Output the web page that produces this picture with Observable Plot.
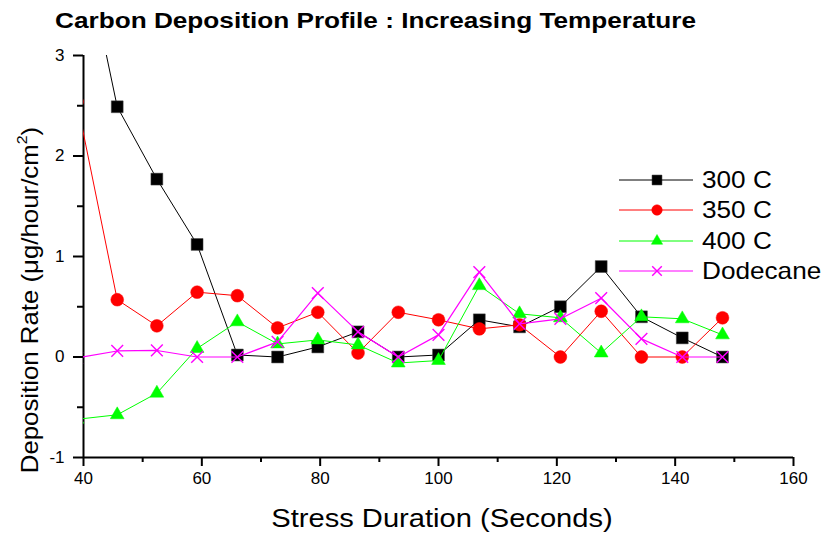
<!DOCTYPE html>
<html>
<head>
<meta charset="utf-8">
<script src="https://cdn.jsdelivr.net/npm/d3@7"></script>
<script src="https://cdn.jsdelivr.net/npm/@observablehq/plot@0.6"></script>
<style>
  html, body { margin: 0; padding: 0; background: #fff; }
  #wrap { position: relative; width: 827px; height: 533px; overflow: hidden; font-family: Arial, "Liberation Sans", sans-serif; color: #000; }
  #title { position: absolute; left: 55px; top: 10px; font-size: 22px; font-weight: bold; line-height: 1; white-space: nowrap; transform-origin: 0 50%; transform: scaleX(1.19); }
  #ylab { position: absolute; left: 30px; top: 300px; transform: translate(-50%, -50%) rotate(-90deg) scaleX(1.075); font-size: 24px; line-height: 1; white-space: nowrap; }
  #ylab sup { font-size: 0.62em; vertical-align: 0.75em; line-height: 0; }
  #xlab { position: absolute; left: 442px; top: 518px; transform: translate(-50%, -50%) scaleX(1.12); font-size: 26px; line-height: 1; white-space: nowrap; }
  #legend { position: absolute; left: 618px; top: 165px; }
  .lrow { display: flex; align-items: center; height: 30.3px; }
  .lrow svg { display: block; }
  .lrow span { display: inline-block; font-size: 24px; margin-left: 8px; line-height: 1; transform-origin: 0 50%; transform: scaleX(1.09); white-space: nowrap; }
  #chart svg { display: block; }
</style>
</head>
<body>
<div id="wrap">
  <div id="chart"></div>
  <div id="title">Carbon Deposition Profile : Increasing Temperature</div>
  <div id="ylab">Deposition Rate (μg/hour/cm<sup>2</sup>)</div>
  <div id="xlab">Stress Duration (Seconds)</div>
  <div id="legend"></div>
</div>
<script>
// ---- data ----
const stressSeconds = [38.9, 45.7, 52.4, 59.2, 66.0, 72.8, 79.6, 86.4, 93.2, 100.0, 106.9, 113.7, 120.6, 127.5, 134.3, 141.2, 148.0];
const rate300C   = [4.4, 2.49, 1.77, 1.12, 0.02, 0.0, 0.10, 0.25, 0.0, 0.02, 0.37, 0.30, 0.50, 0.90, 0.40, 0.19, 0.0];
const rate350C   = [2.54, 0.57, 0.31, 0.645, 0.61, 0.29, 0.445, 0.04, 0.445, 0.37, 0.28, 0.32, 0.0, 0.455, 0.0, 0.0, 0.39];
const rate400C   = [-0.62, -0.575, -0.36, 0.085, 0.35, 0.13, 0.17, 0.12, -0.06, -0.035, 0.71, 0.43, 0.39, 0.04, 0.40, 0.38, 0.22];
const rateDodecane = [-0.01, 0.06, 0.065, 0.0, 0.0, 0.15, 0.635, 0.25, 0.0, 0.22, 0.845, 0.33, 0.38, 0.585, 0.18, 0.0, 0.0];

const seriesNames = ["300 C", "350 C", "400 C", "Dodecane"];
const seriesValues = [rate300C, rate350C, rate400C, rateDodecane];
const seriesColors = ["#000000", "#ff0000", "#00ff00", "#ff00ff"];
const seriesSymbols = ["square", "circle", "triangle", "times"];
const seriesRadius = [6.7, 6.4, 5.1, 5.4];

const xMajorTicks = [40, 60, 80, 100, 120, 140, 160];
const xMinorTicks = [50, 70, 90, 110, 130, 150];
const yMajorTicks = [-1, 0, 1, 2, 3];
const yMinorTicks = [-0.5, 0.5, 1.5, 2.5];

// ---- build ----
const marks = [];
seriesNames.forEach((name, i) => {
  const rows = stressSeconds.map((x, j) => ({series: name, x, y: seriesValues[i][j]}));
  marks.push(Plot.line(rows, {x: "x", y: "y", stroke: seriesColors[i], strokeWidth: i === 3 ? 1.2 : 1, clip: true}));
  const filled = seriesSymbols[i] !== "times";
  marks.push(Plot.dot(rows, {
    x: "x", y: "y", symbol: seriesSymbols[i], r: seriesRadius[i],
    fill: filled ? seriesColors[i] : "none",
    stroke: filled ? (i === 0 ? "#444" : seriesColors[i]) : seriesColors[i],
    strokeWidth: filled ? 0.5 : 1.4,
    clip: true
  }));
});

const chart = Plot.plot({
  width: 827,
  height: 533,
  marginLeft: 83,
  marginRight: 34,
  marginTop: 55,
  marginBottom: 76,
  style: {fontFamily: 'Arial, "Liberation Sans", sans-serif', fontSize: "17px", color: "#000", background: "#fff"},
  x: {domain: [40, 160]},
  y: {domain: [-1, 3]},
  marks: [
    Plot.axisX({ticks: xMajorTicks, tickSize: 9, tickPadding: 5, strokeWidth: 2, label: null, fontSize: 17, tickFormat: d => String(d)}),
    Plot.axisX({ticks: xMinorTicks, tickSize: 5, strokeWidth: 2, label: null, tickFormat: () => ""}),
    Plot.axisY({ticks: yMajorTicks, tickSize: 10, tickPadding: 9, strokeWidth: 2, label: null, fontSize: 17, tickFormat: d => String(d)}),
    Plot.axisY({ticks: yMinorTicks, tickSize: 6, strokeWidth: 2, label: null, tickFormat: () => ""}),
    Plot.ruleX([40], {strokeWidth: 2}),
    Plot.ruleY([-1], {strokeWidth: 2}),
    ...marks
  ]
});
document.getElementById("chart").appendChild(chart);

// ---- legend ----
const legend = d3.select("#legend");
seriesNames.forEach((name, i) => {
  const row = legend.append("div").attr("class", "lrow");
  const svg = row.append("svg").attr("width", 76).attr("height", 20);
  svg.append("line").attr("x1", 1).attr("x2", 75).attr("y1", 10).attr("y2", 10)
    .attr("stroke", seriesColors[i]).attr("stroke-width", i === 3 ? 1.2 : 1);
  const symMap = {square: d3.symbolSquare, circle: d3.symbolCircle, triangle: d3.symbolTriangle, times: d3.symbolTimes};
  const r = seriesRadius[i] * 0.82;
  const filled = seriesSymbols[i] !== "times";
  svg.append("path")
    .attr("transform", "translate(39,10)")
    .attr("d", d3.symbol(symMap[seriesSymbols[i]], Math.PI * r * r)())
    .attr("fill", filled ? seriesColors[i] : "none")
    .attr("stroke", seriesColors[i])
    .attr("stroke-width", filled ? 0.5 : 1.4);
  row.append("span").text(name);
});
</script>
</body>
</html>
